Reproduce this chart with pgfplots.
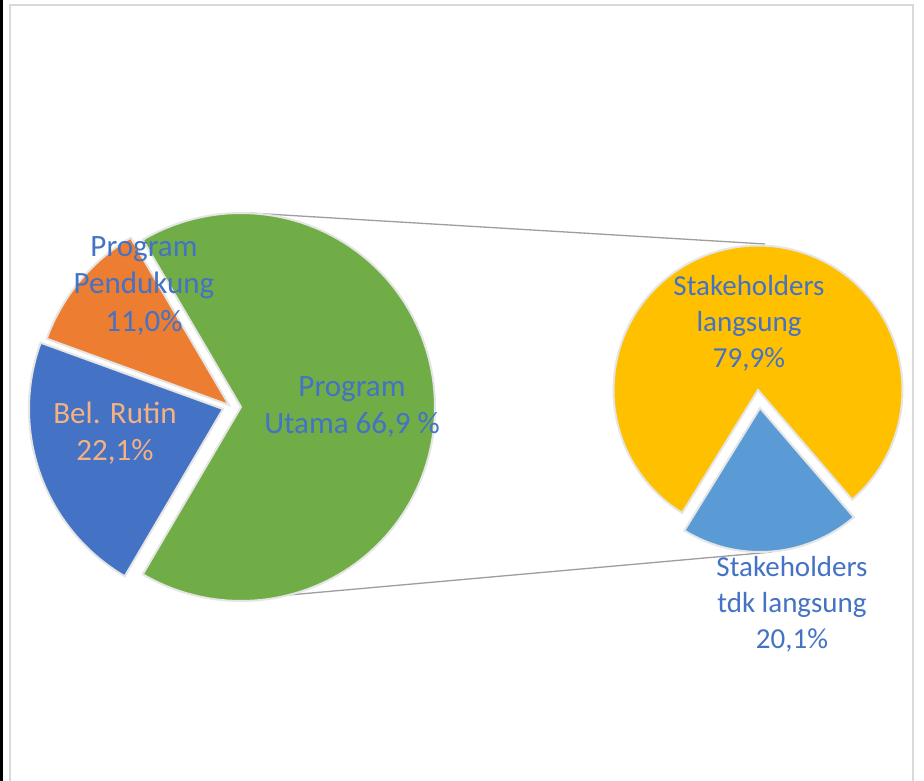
\documentclass[border=0pt]{standalone}
\usepackage{pgfplots}
\pgfplotsset{compat=1.18}
\usepackage{fontspec}
\setmainfont{Carlito}

\definecolor{cGreen}{HTML}{70AD47}
\definecolor{cOrange}{HTML}{ED7D31}
\definecolor{cBlue}{HTML}{4472C4}
\definecolor{cYellow}{HTML}{FFC000}
\definecolor{cLightBlue}{HTML}{5B9BD5}
\definecolor{cLabel}{HTML}{4472C4}
\definecolor{cLabelOrange}{HTML}{F4B183}
\definecolor{cFrame}{HTML}{D9D9D9}

% shares in percent
\def\pUtama{66.9}
\def\pPendukung{11.0}
\def\pRutin{22.1}
\def\pLangsung{79.9}
\def\pTdk{20.1}

\begin{document}
\begin{tikzpicture}
\begin{axis}[
    width=924bp, height=781bp,
    scale only axis,
    xmin=0, xmax=924, ymin=0, ymax=781,
    y dir=reverse,
    hide axis,
    samples=120,
    every axis plot/.append style={draw=black!10, line width=2bp},
]
  \path[fill=white] (axis cs:0,0) rectangle (axis cs:924,781);
  \fill[black] (axis cs:0,0) rectangle (axis cs:3,781);
  \draw[cFrame, line width=1.5bp] (axis cs:10,781) -- (axis cs:10,5) -- (axis cs:913,5) -- (axis cs:913,781);

  % connector lines
  \draw[black!38, line width=1.3bp] (axis cs:250,213) -- (axis cs:765,244);
  \draw[black!38, line width=1.3bp] (axis cs:255,598) -- (axis cs:772,552);

  % ---------- left pie ----------
  \pgfmathsetmacro{\aA}{-1.8*\pUtama}
  \pgfmathsetmacro{\aB}{1.8*\pUtama}
  \pgfmathsetmacro{\aC}{\aB+3.6*\pPendukung}
  \pgfmathsetmacro{\aD}{\aC+3.6*\pRutin}

  \addplot[fill=cGreen, domain=\aA:\aB, variable=\t]
    ({241+194*cos(t)}, {407-194*sin(t)}) -- (axis cs:241,407) -- cycle;
  \addplot[fill=cOrange, domain=\aB:\aC, variable=\t]
    ({229+194*cos(t)}, {405-194*sin(t)}) -- (axis cs:229,405) -- cycle;
  \addplot[fill=cBlue, domain=\aC:\aD, variable=\t]
    ({223+194*cos(t)}, {409-194*sin(t)}) -- (axis cs:223,409) -- cycle;

  % ---------- right pie ----------
  \pgfmathsetmacro{\bA}{274.5-1.8*\pTdk}
  \pgfmathsetmacro{\bB}{274.5+1.8*\pTdk}
  \pgfmathsetmacro{\bC}{\bA+360}

  \addplot[fill=cYellow, domain=\bB:\bC, variable=\t]
    ({758+144.5*cos(t)}, {390-144.5*sin(t)}) -- (axis cs:758,390) -- cycle;
  \addplot[fill=cLightBlue, domain=\bA:\bB, variable=\t]
    ({760+144*cos(t)}, {408-144*sin(t)}) -- (axis cs:760,408) -- cycle;

  % ---------- labels ----------
  \begin{scope}[every node/.style={align=center, font=\fontsize{31bp}{37.5bp}\selectfont, inner sep=0pt}]
    \node[text=cLabel] at (axis cs:144,286) {Program\\Pendukung\\11,0\%};
    \node[text=cLabelOrange] at (axis cs:115,433) {Bel. Rutin\\22,1\%};
    \node[text=cLabel] at (axis cs:352,407) {Program\\Utama 66,9 \%};
  \end{scope}
  \begin{scope}[every node/.style={align=center, font=\fontsize{29bp}{36bp}\selectfont, inner sep=0pt}]
    \node[text=cLabel] at (axis cs:749,323) {Stakeholders\\langsung\\79,9\%};
    \node[text=cLabel] at (axis cs:792,604) {Stakeholders\\tdk langsung\\20,1\%};
  \end{scope}
\end{axis}
\end{tikzpicture}
\end{document}
